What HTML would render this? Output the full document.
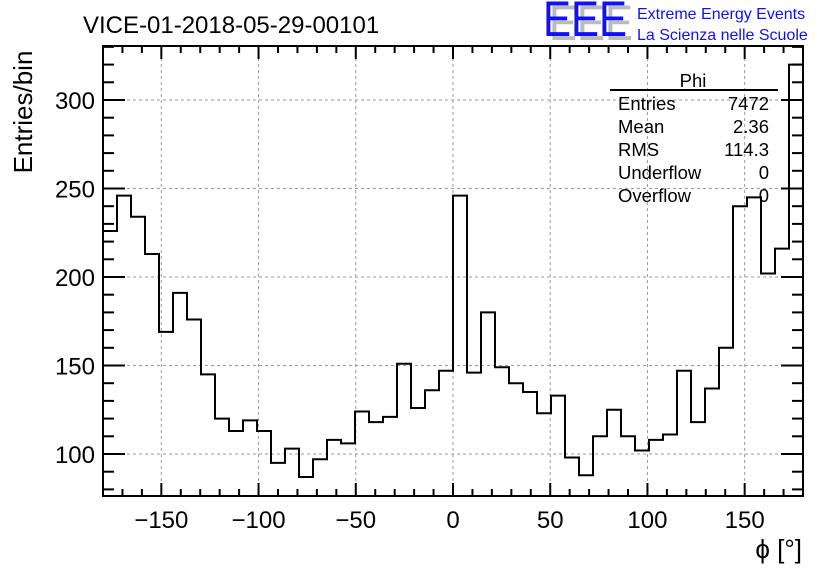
<!DOCTYPE html>
<html><head><meta charset="utf-8"><style>
body{margin:0;background:#fff;}
svg{display:block;font-family:"Liberation Sans",sans-serif;}
</style></head><body>
<svg id="c" width="836" height="572">
<text x="83" y="33" font-size="24">VICE-01-2018-05-29-00101</text>
<g>
<text x="549" y="40" font-size="50" fill="#bbb" textLength="84" lengthAdjust="spacingAndGlyphs">EEE</text>
<text x="543" y="36" font-size="50" fill="#1010ff" textLength="84" lengthAdjust="spacingAndGlyphs">EEE</text>
</g>
<text x="637" y="19" font-size="16" fill="#1010ff">Extreme Energy Events</text>
<text x="637" y="40" font-size="16" fill="#1010ff">La Scienza nelle Scuole</text>
<text transform="translate(32,112) rotate(-90)" text-anchor="middle" font-size="26">Entries/bin</text>
<text x="802" y="558" text-anchor="end" font-size="26">ϕ [°]</text>
<g id="grid"></g><g id="hist"></g><g id="axes"></g>
<g font-size="18.5">
<text x="693" y="87" text-anchor="middle">Phi</text>
<line x1="610" y1="90" x2="778" y2="90" stroke="#000" stroke-width="2"/>
<text x="618" y="110">Entries</text><text x="769" y="110" text-anchor="end">7472</text>
<text x="618" y="133">Mean</text><text x="769" y="133" text-anchor="end">2.36</text>
<text x="618" y="156">RMS</text><text x="769" y="156" text-anchor="end">114.3</text>
<text x="618" y="179">Underflow</text><text x="769" y="179" text-anchor="end">0</text>
<text x="618" y="202">Overflow</text><text x="769" y="202" text-anchor="end">0</text>
</g>
</svg>
<script>
const binEdges0 = -180, binWidth = 7.2;
const counts = [226,246,234,213,169,191,176,145,120,113,119,113,95,103,87,97,108,106,124,118,121,151,126,136,147,246,146,180,149,140,135,123,133,98,88,110,125,110,102,108,111,147,118,137,160,240,245,202,216,320];
const xTicks = [-150,-100,-50,0,50,100,150];
const yTicks = [100,150,200,250,300];
const L=103,R=803,T=46,B=496, xMin=-180,xMax=180,yMin=76.27,yMax=330.5;
const sx=v=>L+(v-xMin)/(xMax-xMin)*(R-L);
const sy=v=>B-(v-yMin)/(yMax-yMin)*(B-T);
const NS='http://www.w3.org/2000/svg';
function mk(t,a,p){const e=document.createElementNS(NS,t);for(const k in a)e.setAttribute(k,a[k]);p.appendChild(e);return e;}
const grid=document.getElementById('grid'),hist=document.getElementById('hist'),axes=document.getElementById('axes');
xTicks.forEach(v=>{const l=mk('line',{x1:sx(v),x2:sx(v),y1:T,y2:B,stroke:'#999','stroke-dasharray':'3,3'},grid);

});
yTicks.forEach(v=>{const l=mk('line',{x1:L,x2:R,y1:sy(v),y2:sy(v),stroke:'#999','stroke-dasharray':'3,3'},grid);

});
let d='M'+sx(binEdges0)+','+B;
counts.forEach((c,i)=>{const x0=sx(binEdges0+i*binWidth),x1=sx(binEdges0+(i+1)*binWidth);d+=' L'+x0+','+sy(c)+' L'+x1+','+sy(c);});
d+=' L'+R+','+B;
const h=mk('path',{d:d,fill:'none',stroke:'#000','stroke-width':2},hist);


const fr=mk('rect',{x:L,y:T,width:R-L,height:B-T,fill:'none',stroke:'#000','stroke-width':2},axes);


for(let v=-180;v<=180;v+=10){const maj=v%50===0,len=maj?13:7,x=sx(v);
mk('line',{x1:x,x2:x,y1:B,y2:B-len,stroke:'#000','stroke-width':2},axes);
mk('line',{x1:x,x2:x,y1:T,y2:T+len,stroke:'#000','stroke-width':2},axes);}
for(let v=80;v<=330;v+=10){const maj=v%50===0,len=maj?22:11,y=sy(v);
mk('line',{x1:L,x2:L+len,y1:y,y2:y,stroke:'#000','stroke-width':2},axes);
mk('line',{x1:R,x2:R-len,y1:y,y2:y,stroke:'#000','stroke-width':2},axes);}
xTicks.forEach(v=>{const t=mk('text',{x:sx(v),y:528,'text-anchor':'middle','font-size':24},axes);t.textContent=(v<0?'\u2212'+(-v):v);

});
yTicks.forEach(v=>{const t=mk('text',{x:95,y:sy(v)+9,'text-anchor':'end','font-size':24},axes);t.textContent=v;

});
</script>
</body></html>
